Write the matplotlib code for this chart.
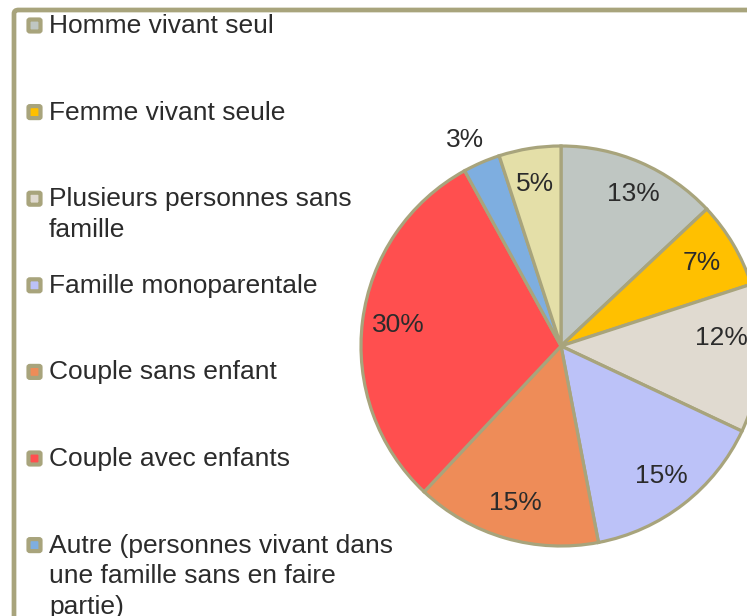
import matplotlib
matplotlib.use("Agg")
import matplotlib.pyplot as plt
from matplotlib.patches import FancyBboxPatch

plt.rcParams['font.family'] = ['Liberation Sans', 'DejaVu Sans']

# data (clockwise from 12 o'clock)
labels = ["Homme vivant seul", "Femme vivant seule", "Plusieurs personnes sans\nfamille",
          "Famille monoparentale", "Couple sans enfant", "Couple avec enfants",
          "Autre (personnes vivant dans\nune famille sans en faire\npartie)"]
values = [13, 7, 12, 15, 15, 30, 3, 5]
colors = ["#bfc6c2", "#ffc000", "#e0dad0", "#bcc2f8", "#ee8c58", "#ff4f4f", "#7eaee0", "#e4dfa8"]
EDGE = "#a8a47c"
TXT = "#2b2b2b"
FS = 19

W, H = 747, 616
fig = plt.figure(figsize=(W / 100, H / 100), dpi=100)
def fx(x): return x / W
def fy(y): return 1 - y / H

# outer frame (only top/left visible)
frame = FancyBboxPatch((fx(14), fy(700)), fx(800), 690 / H, boxstyle="round,pad=0,rounding_size=0.006",
                       transform=fig.transFigure, fc="none", ec=EDGE, lw=3.4, clip_on=False)
fig.patches.append(frame)

# pie
cx, cy, R = 561, 346, 200
ax = fig.add_axes([fx(cx - R), fy(cy + R), 2 * R / W, 2 * R / H])
wedges, texts, autotexts = ax.pie(values, colors=colors, startangle=90, counterclock=False,
                                  autopct="%1.0f%%", pctdistance=0.82,
                                  wedgeprops=dict(edgecolor=EDGE, linewidth=2.3),
                                  textprops=dict(color=TXT, fontsize=FS))
autotexts[6].set_position((-0.48, 1.03))
autotexts[0].set_position((0.36, 0.76))
autotexts[2].set_position((0.80, 0.04))
ax.set_xlim(-1, 1); ax.set_ylim(-1, 1)
ax.set_aspect("auto")
ax.axis("off")
for w in wedges:
    w.set_clip_on(False)

# legend, drawn by hand
row0, step, lsp = 33, 86.6, 30.5
for i, lab in enumerate(labels):
    base = row0 + i * step
    fig.patches.append(FancyBboxPatch((fx(28.5), fy(base - 1.5)), 12 / W, 12 / H,
                                      boxstyle="round,pad=0,rounding_size=0.002",
                                      transform=fig.transFigure, fc=colors[i], ec=EDGE, lw=3.0))
    for k, line in enumerate(lab.split("\n")):
        fig.text(fx(49), fy(base + k * lsp), line, fontsize=FS, color=TXT, va="baseline", ha="left")

fig.savefig("out.png", dpi=100)
